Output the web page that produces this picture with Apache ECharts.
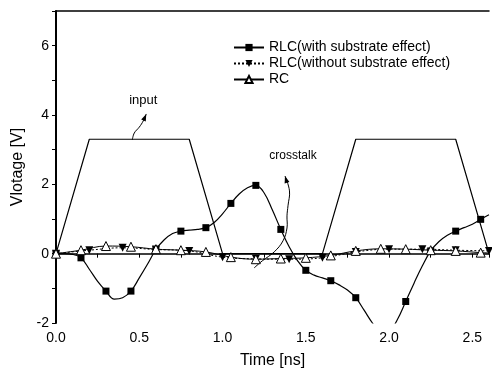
<!DOCTYPE html>
<html>
<head>
<meta charset="utf-8">
<script src="https://cdn.jsdelivr.net/npm/echarts@6/dist/echarts.min.js"></script>
<style>
  html, body { margin: 0; padding: 0; background: #fff; }
  #chart { width: 492px; height: 374px; }
</style>
</head>
<body>
<div id="chart"></div>
<script>
// input pulse (no markers)
const inputTime = [0, 0.2, 0.8, 1.0, 1.6, 1.8, 2.4, 2.6];
const inputValue = [0, 3.3, 3.3, 0, 0, 3.3, 3.3, 0];

// RLC with substrate effect, sampled every 0.05 ns (markers every 0.15 ns)
const rlcSubTime = [0, 0.05, 0.1, 0.15, 0.2, 0.25, 0.3, 0.35, 0.4, 0.45, 0.5, 0.55, 0.6, 0.65, 0.7, 0.75,
  0.8, 0.85, 0.9, 0.95, 1.0, 1.05, 1.1, 1.15, 1.2, 1.25, 1.3, 1.35, 1.4, 1.45, 1.5, 1.55, 1.6, 1.65,
  1.7, 1.75, 1.8, 1.85, 1.9, 1.95, 2.0, 2.05, 2.1, 2.15, 2.2, 2.25, 2.3, 2.35, 2.4, 2.45, 2.5, 2.55, 2.6];
const rlcSubValue = [0, 0, -0.02, -0.12, -0.45, -0.8, -1.08, -1.31, -1.27, -1.08, -0.7, -0.3, 0.12, 0.4, 0.58, 0.65,
  0.68, 0.7, 0.75, 0.9, 1.15, 1.45, 1.72, 1.9, 1.97, 1.75, 1.25, 0.7, 0.2, -0.2, -0.48, -0.62, -0.7, -0.78,
  -0.9, -1.05, -1.27, -1.63, -2.0, -2.3, -2.25, -1.9, -1.38, -0.85, -0.35, 0.08, 0.35, 0.53, 0.65, 0.75, 0.85, 0.99, 1.12];

// RLC without substrate effect
const rlcTime = [0, 0.2, 0.4, 0.6, 0.8, 1.0, 1.2, 1.4, 1.6, 1.8, 2.0, 2.2, 2.4, 2.6];
const rlcValue = [0, 0.1, 0.17, 0.12, 0.08, -0.1, -0.15, -0.16, -0.12, 0.05, 0.13, 0.13, 0.1, 0.08];

// RC
const rcTime = [0, 0.15, 0.3, 0.45, 0.6, 0.75, 0.9, 1.05, 1.2, 1.35, 1.5, 1.65, 1.8, 1.95, 2.1, 2.25, 2.4, 2.55, 2.6];
const rcValue = [0, 0.1, 0.22, 0.2, 0.13, 0.1, 0.05, -0.1, -0.16, -0.14, -0.12, -0.05, 0.08, 0.14, 0.13, 0.1, 0.08, 0.03, 0.02];

const seriesNames = ['RLC(with substrate effect)', 'RLC(without substrate effect)', 'RC'];

// annotation paths (data units)
const inputArrow = [[0.458, 3.28], [0.47, 3.48], [0.5, 3.65], [0.524, 3.83], [0.542, 4.03]];
const crosstalkArrow = [[1.19, -0.41], [1.238, -0.21], [1.31, 0.05], [1.363, 0.37], [1.387, 0.74],
  [1.387, 1.09], [1.393, 1.38], [1.402, 1.81], [1.375, 2.24]];

const zip = (a, b) => a.map((x, i) => [x, b[i]]);
const font = 'Liberation Sans, Arial, sans-serif';

const myChart = echarts.init(document.getElementById('chart'));
myChart.setOption({
  animation: false,
  backgroundColor: '#fff',
  textStyle: { fontFamily: font, color: '#000' },
  grid: { left: 56, top: 11, right: 0, bottom: 51, containLabel: false },
  legend: {
    data: seriesNames,
    orient: 'vertical',
    left: 228,
    top: 35,
    itemWidth: 30,
    itemHeight: 9,
    itemGap: 1,
    textStyle: { fontSize: 14, color: '#000', fontFamily: font, lineHeight: 15 }
  },
  xAxis: [{
    type: 'value',
    min: 0,
    max: 2.6,
    interval: 0.25,
    name: 'Time [ns]',
    nameLocation: 'middle',
    nameGap: 30,
    nameTextStyle: { fontSize: 16, color: '#000' },
    axisLine: { lineStyle: { color: '#000', width: 1.5 } },
    axisTick: { show: true, length: 4, lineStyle: { color: '#000' } },
    axisLabel: {
      fontSize: 14, color: '#000', margin: 8, showMaxLabel: true,
      formatter: v => (Math.abs(v / 0.5 - Math.round(v / 0.5)) < 1e-6 ? v.toFixed(1) : '')
    },
    splitLine: { show: false }
  }, {
    type: 'value',
    position: 'top',
    min: 0,
    max: 2.6,
    axisLine: { show: true, lineStyle: { color: '#000', width: 1.5 } },
    axisTick: { show: false },
    axisLabel: { show: false },
    splitLine: { show: false }
  }],
  yAxis: {
    type: 'value',
    min: -2,
    max: 7,
    interval: 1,
    name: 'Vlotage [V]',
    nameLocation: 'middle',
    nameGap: 30,
    nameTextStyle: { fontSize: 16, color: '#000' },
    axisLine: { show: true, lineStyle: { color: '#000', width: 2 } },
    axisTick: { show: true, length: 4, lineStyle: { color: '#000' } },
    axisLabel: {
      fontSize: 14, color: '#000', margin: 7,
      formatter: v => (v % 2 === 0 && v < 7 ? String(v) : '')
    },
    splitLine: { show: false }
  },
  series: [
    {
      name: 'input',
      type: 'line',
      data: zip(inputTime, inputValue),
      showSymbol: false,
      symbol: 'none',
      lineStyle: { color: '#000', width: 1.2 },
      z: 2
    },
    {
      name: seriesNames[0],
      type: 'line',
      data: zip(rlcSubTime, rlcSubValue),
      smooth: 0.4,
      symbol: 'rect',
      symbolSize: (v, p) => (p.dataIndex % 3 === 0 ? 7 : 0),
      showAllSymbol: true,
      itemStyle: { color: '#000' },
      lineStyle: { color: '#000', width: 1.2 },
      z: 3
    },
    {
      name: seriesNames[1],
      type: 'line',
      data: zip(rlcTime, rlcValue),
      smooth: 0.4,
      symbol: 'triangle',
      symbolRotate: 180,
      symbolSize: 8,
      showAllSymbol: true,
      itemStyle: { color: '#000' },
      lineStyle: { color: '#000', width: 1, type: [2, 2] },
      z: 3
    },
    {
      name: seriesNames[2],
      type: 'line',
      data: zip(rcTime, rcValue),
      smooth: 0.4,
      symbol: 'triangle',
      symbolSize: (v, p) => (p.dataIndex < rcTime.length - 1 ? 9 : 0),
      showAllSymbol: true,
      itemStyle: { color: '#fff', borderColor: '#000', borderWidth: 1 },
      lineStyle: { color: '#000', width: 1 },
      z: 4
    }
  ]
});

// annotations: labels and hand-drawn arrows
function toPx(pts) {
  return pts.map(p => myChart.convertToPixel({ xAxisIndex: 0, yAxisIndex: 0 }, p));
}
function arrowHead(tip, from) {
  const dx = tip[0] - from[0], dy = tip[1] - from[1];
  const len = Math.hypot(dx, dy) || 1;
  const ux = dx / len, uy = dy / len;
  const bx = tip[0] - ux * 7, by = tip[1] - uy * 7;
  return [[tip[0], tip[1]], [bx - uy * 2.5, by + ux * 2.5], [bx + uy * 2.5, by - ux * 2.5]];
}
const inPx = toPx(inputArrow);
const crPx = toPx(crosstalkArrow);
const inputLabel = myChart.convertToPixel({ xAxisIndex: 0, yAxisIndex: 0 }, [0.524, 4.43]);
const crossLabel = myChart.convertToPixel({ xAxisIndex: 0, yAxisIndex: 0 }, [1.423, 2.82]);
myChart.setOption({
  graphic: [
    { type: 'polyline', shape: { points: inPx, smooth: 0.4 }, style: { stroke: '#000', lineWidth: 1, fill: null } },
    { type: 'polygon', shape: { points: arrowHead(inPx[inPx.length - 1], inPx[inPx.length - 2]) }, style: { fill: '#000' } },
    { type: 'polyline', shape: { points: crPx, smooth: 0.4 }, style: { stroke: '#000', lineWidth: 1, fill: null } },
    { type: 'polygon', shape: { points: arrowHead(crPx[crPx.length - 1], crPx[crPx.length - 2]) }, style: { fill: '#000' } },
    { type: 'text', x: inputLabel[0], y: inputLabel[1], style: { text: 'input', font: '13px ' + font, fill: '#000', align: 'center', verticalAlign: 'middle' } },
    { type: 'text', x: crossLabel[0], y: crossLabel[1], style: { text: 'crosstalk', font: '12px ' + font, fill: '#000', align: 'center', verticalAlign: 'middle' } }
  ]
});
</script>
</body>
</html>
